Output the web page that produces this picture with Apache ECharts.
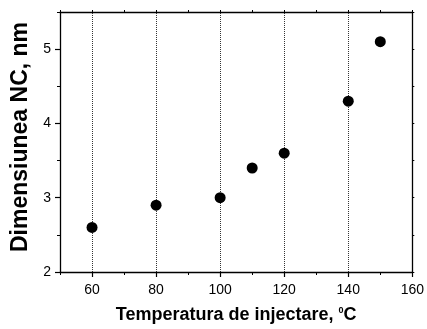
<!DOCTYPE html>
<html><head><meta charset="utf-8">
<script src="https://cdn.jsdelivr.net/npm/echarts@6/dist/echarts.min.js"></script>
<style>html,body{margin:0;padding:0;background:#fff}#c{width:427px;height:329px}</style>
</head><body><div id="c"></div>
<script>
const temperatures = [60, 80, 100, 110, 120, 140, 150];
const sizes = [2.6, 2.9, 3.0, 3.4, 3.6, 4.3, 5.1];
const xTicks = [60, 80, 100, 120, 140, 160];
const yTicks = [2, 3, 4, 5];
const gridLineXs = [60, 80, 100, 120, 140];

const chart = echarts.init(document.getElementById('c'), null, {renderer: 'canvas'});
const font = 'Liberation Sans, Arial, sans-serif';
const minorX = {
  type: 'value', min: 50, max: 160, interval: 10, position: 'bottom',
  axisLine: {show: false, onZero: false},
  axisTick: {show: true, length: 3, lineStyle: {color: '#000', width: 1}},
  axisLabel: {show: false}, splitLine: {show: false}
};
const minorY = {
  type: 'value', min: 2, max: 5.5, interval: 0.5, position: 'left',
  axisLine: {show: false, onZero: false},
  axisTick: {show: true, length: 3, lineStyle: {color: '#000', width: 1}},
  axisLabel: {show: false}, splitLine: {show: false}
};
chart.setOption({
  animation: false,
  grid: {left: 60, right: 14, top: 12, bottom: 56},
  xAxis: [{
    type: 'value', min: 50, max: 160, interval: 10,
    axisLine: {lineStyle: {color: '#000', width: 1.3}},
    axisTick: {show: true, length: 5, inside: false, lineStyle: {color: '#000', width: 1.2},
      customValues: xTicks},
    axisLabel: {color: '#000', fontSize: 14, fontFamily: font, margin: 11,
      customValues: xTicks},
    splitLine: {show: false},
    name: 'Temperatura de injectare, {s|0}C',
    nameLocation: 'middle', nameGap: 34,
    nameTextStyle: {color: '#000', fontSize: 18, fontWeight: 'bold', fontFamily: font,
      rich: {s: {fontSize: 9, fontWeight: 'bold', fontFamily: font, color: '#000', verticalAlign: 'top', padding: [0,0,7,0]}}}
  }, {
    type: 'value', min: 50, max: 160, interval: 10, position: 'top',
    axisLine: {show: true, onZero: false, lineStyle: {color: '#000', width: 1.3}},
    axisTick: {show: true, length: 2, lineStyle: {color: '#000'}},
    axisLabel: {show: false}, splitLine: {show: false}
  }, minorX],
  yAxis: [{
    type: 'value', min: 2, max: 5.5, interval: 0.5,
    axisLine: {show: true, lineStyle: {color: '#000', width: 1.3}},
    axisTick: {show: true, length: 5, lineStyle: {color: '#000', width: 1.2}, customValues: yTicks},
    axisLabel: {color: '#000', fontSize: 14, fontFamily: font, margin: 9, customValues: yTicks},
    splitLine: {show: false},
    name: 'Dimensiunea NC, nm', nameLocation: 'middle', nameGap: 22,
    nameTextStyle: {color: '#000', fontSize: 23, fontWeight: 'bold', fontFamily: font, padding: [0, 0, 0, 10]}
  }, {
    type: 'value', min: 2, max: 5.5, interval: 0.5, position: 'right',
    axisLine: {show: true, onZero: false, lineStyle: {color: '#000', width: 1.3}},
    axisTick: {show: true, length: 2, lineStyle: {color: '#000'}},
    axisLabel: {show: false}, splitLine: {show: false}
  }, minorY],
  series: [{
    type: 'scatter', xAxisIndex: 0, yAxisIndex: 0,
    data: temperatures.map((t, i) => [t, sizes[i]]),
    symbol: 'circle', symbolSize: 11,
    itemStyle: {color: '#000', opacity: 1},
    markLine: {
      silent: true, symbol: 'none', label: {show: false},
      lineStyle: {color: '#000', type: [1, 1], width: 0.8, opacity: 1},
      data: gridLineXs.map(v => ({xAxis: v}))
    },
    z: 5
  }]
});
</script></body></html>
